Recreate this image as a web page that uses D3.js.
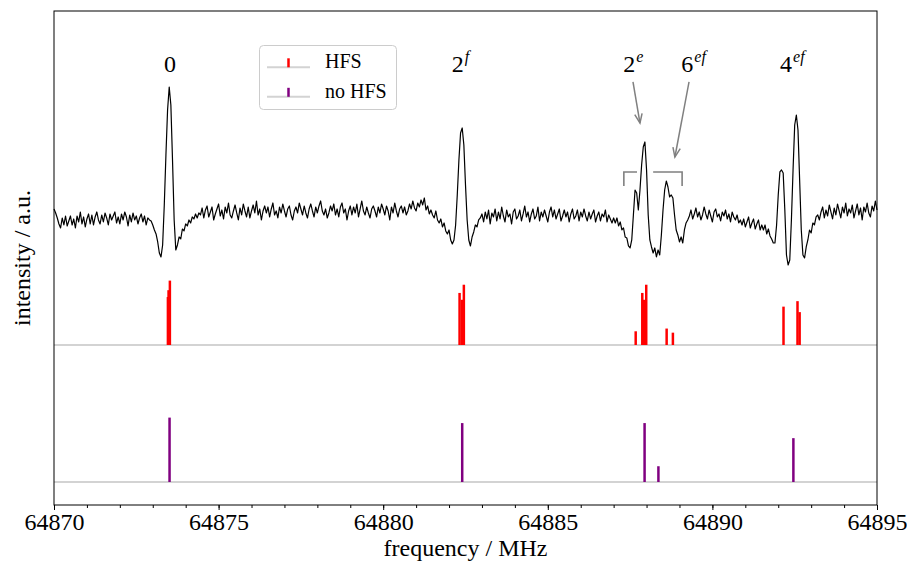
<!DOCTYPE html>
<html>
<head>
<meta charset="utf-8">
<script src="https://cdn.jsdelivr.net/npm/d3@7"></script>
<style>
body { margin: 0; background: #fff; }
text { font-family: "Liberation Serif", "DejaVu Serif", serif; fill: #000; }
</style>
</head>
<body>
<svg id="chart" width="907" height="562"></svg>
<script>
// measured spectrum, one value every 0.05 MHz from 64870 MHz (arbitrary counts, baseline ~0)
var specStart = 64870;
var specStep = 0.05;
var specCounts = [
  6, 2, -3, -9, -13, -3, -10, -1, -11, -6,
  -1, -10, -4, -13, -1, -7, 3, -9, -2, -12,
  -4, 1, -9, 0, -10, -2, 3, -5, -9, 0,
  -7, 2, -3, -10, 1, -5, -1, 3, -8, -2,
  -9, 1, -5, 3, -2, -11, 0, -7, 2, -5,
  -1, -9, -3, 1, -7, -1, -10, -3, -5,
  -6, -10, -15, -19, -27, -38, -42, -30, 10, 60, 105, 128, 110, 55, -5, -35,
  -30, -22, -24, -14, -16, -9, -11, -5, -8, -2, -4, 1, -3, 2,
  0, 7, -3, 5, 9, -2, 3, 8, -5, 1,
  6, 11, -1, 5, -4, 8, 2, 12, 0, -3,
  4, 10, 2, -5, 7, 0, 11, 4, -2, 8,
  -3, 4, 10, 2, 14, 0, 6, -5, 4, 9,
  2, 8, -2, 6, 12, 0, 4, -3, 8, 2,
  11, 4, -2, 6, 9, 0, -5, 4, 8, 2,
  12, 6, 0, 9, 2, -3, 6, 11, 4, -2,
  8, 2, 9, 14, 4, 0, 6, -3, 2, 9,
  4, 11, 0, 6, -2, 8, 12, 2, 6, -5,
  4, 9, 0, 8, 2, 11, -2, 6, 14, 4,
  0, 8, 2, -3, 6, 9, 4, -2, 8, 2,
  11, 6, 0, 9, 4, -5, 8, 2, 12, 4,
  -2, 6, 9, 2, 8, 0, 4, 11, 6, 14,
  7, 4, 12, 8, 15, 10,
  17,
  5, 9, 1, 5, 0, -3, 4, -5, -8, -4, -12, -8, -16, -19, -15, -25, -29,
  -25, -10, 20, 55, 82, 87, 70, 30, -5, -25, -31, -22, -17, -10, -12, -5, -3,
  1, -7, 3, -4, 5, -9, 2, -2, 6, -6,
  3, -4, 8, -1, -7, 5, -2, 1, -9, 3,
  6, -4, -1, 5, -6, 1, 9, -2, 3, -7,
  1, 6, -4, -1, 8, -6, 3, -2, 5, -1,
  -7, 3, 8, -2, 5, -4, 1, 6, -6, -1,
  5, -2, 3, -7, 1, 6, -4, -1, 5, -6,
  3, -2, 6, -1, -6, 3, -4, 1, 5, -7,
  -1, 3, -6, 1, -2, 5, -7, 0, -4, -8,
  -3, -8, -3, -11, -7, -15, -13, -22, -23, -31,
  -33, -25, 0, 25, 22, 5, 25, 50, 68, 73, 45, 0, -25, -32, -38, -33, -42, -35, -40,
  -20, 5, 25, 34, 28, 18, 20, 17, 0, -15, -20, -27, -22, -28, -15, -8, -5, -1,
  5, -4, 1, 7, -2, 3, -5, 0, 8, 1,
  -4, 5, -1, -7, 3, 6, -2, 1, -6, 3,
  -1, 5, -4, 1, -7, 3, -2, -5, 0, -8,
  -5, -10, -4, -12, -7, -2, -13, -8, -4, -14, -9, -5, -15, -10,
  -15, -10, -19, -14, -21, -24, -28,
  -28, -10, 20, 43, 45, 42, 5, -40, -50, -45, -5, 45, 90, 100, 85, 35, -15,
  -40, -43, -32, -25, -15, -18, -8, -10, -2,
  0, -5, 3, 8, -3, 5, -1, 10, 3, -4,
  7, 0, 11, 4, -3, 8, 2, 12, -1, 6,
  2, 10, -3, 4, 11, 0, 7, -5, 8, 3,
  12, 2, -2, 9, 4, 14, 5
];
if (specCounts.length !== 501) throw new Error("specCounts has " + specCounts.length + " values");

// calculated line positions (MHz) and relative intensities
var hfsFreq = [64873.46, 64873.48, 64873.52, 64882.32, 64882.39, 64882.45, 64887.67, 64887.87,
  64887.92, 64887.99, 64888.61, 64888.80, 64892.16, 64892.585, 64892.65];
var hfsInt = [0.35, 0.40, 0.47, 0.38, 0.33, 0.44, 0.10, 0.38, 0.33, 0.44, 0.12, 0.09, 0.28, 0.32, 0.24];
var noHfsFreq = [64873.51, 64882.40, 64887.94, 64888.36, 64892.46];
var noHfsInt = [0.47, 0.43, 0.43, 0.115, 0.32];

var xTicks = [64870, 64875, 64880, 64885, 64890, 64895];

// peak labels: main text, superscript, frequency of the label centre
var peakText = ["0", "2", "2", "6", "4"];
var peakSup = ["", "f", "e", "ef", "ef"];
var peakFreq = [64873.52, 64882.35, 64887.60, 64889.43, 64892.43];

// vertical offsets of the three traces (a.u.)
var specOffset = 1.949;
var specGain = 1 / 137;
var hfsOffset = 1.0;
var noHfsOffset = 0;

var margin = {left: 54, right: 877, top: 11, bottom: 505};

var svg = d3.select("#chart");

var x = d3.scaleLinear().domain([64870, 64895]).range([margin.left, margin.right]);
var y = d3.scaleLinear().domain([-0.168, 3.438]).range([margin.bottom, margin.top]);

var plot = svg.append("g");

// stick spectrum baselines
[hfsOffset, noHfsOffset].forEach(function(b) {
    plot.append("line")
        .attr("x1", margin.left).attr("x2", margin.right)
        .attr("y1", y(b)).attr("y2", y(b))
        .attr("stroke", "#d3d3d3")
        .attr("stroke-width", 2);
});

// sticks
plot.selectAll(".hfs")
    .data(hfsFreq)
    .join("line")
    .attr("class", "hfs")
    .attr("x1", d => x(d)).attr("x2", d => x(d))
    .attr("y1", y(hfsOffset))
    .attr("y2", (d, i) => y(hfsOffset + hfsInt[i]))
    .attr("stroke", "#ff0000")
    .attr("stroke-width", 2.5);

plot.selectAll(".nohfs")
    .data(noHfsFreq)
    .join("line")
    .attr("class", "nohfs")
    .attr("x1", d => x(d)).attr("x2", d => x(d))
    .attr("y1", y(noHfsOffset))
    .attr("y2", (d, i) => y(noHfsOffset + noHfsInt[i]))
    .attr("stroke", "#800080")
    .attr("stroke-width", 2.5);

// measured spectrum
var line = d3.line()
    .x((d, i) => x(specStart + i * specStep))
    .y(d => y(specOffset + d * specGain));

plot.append("path")
    .datum(specCounts)
    .attr("d", line)
    .attr("fill", "none")
    .attr("stroke", "#000")
    .attr("stroke-width", 1.2)
    .attr("stroke-linejoin", "round");

// brackets over the 2e / 6ef group
var gray = "#808080";
var brY = y(2.263), brY2 = y(2.16);
plot.append("path")
    .attr("d", "M" + x(64887.31) + "," + brY2 + "V" + brY + "H" + x(64887.71))
    .attr("fill", "none").attr("stroke", gray).attr("stroke-width", 1.6);
plot.append("path")
    .attr("d", "M" + x(64888.20) + "," + brY + "H" + x(64889.08) + "V" + brY2)
    .attr("fill", "none").attr("stroke", gray).attr("stroke-width", 1.6);

// arrows
function arrow(f1, a1, f2, a2) {
    var x1 = x(f1), y1 = y(a1), x2 = x(f2), y2 = y(a2);
    var ang = Math.atan2(y2 - y1, x2 - x1);
    var len = 10, spread = 0.38;
    plot.append("line")
        .attr("x1", x1).attr("y1", y1).attr("x2", x2).attr("y2", y2)
        .attr("stroke", gray).attr("stroke-width", 1.5);
    plot.append("path")
        .attr("d", "M" + (x2 - len * Math.cos(ang - spread)) + "," + (y2 - len * Math.sin(ang - spread)) +
            "L" + x2 + "," + y2 +
            "L" + (x2 - len * Math.cos(ang + spread)) + "," + (y2 - len * Math.sin(ang + spread)))
        .attr("fill", "none").attr("stroke", gray).attr("stroke-width", 1.5);
}
arrow(64887.588, 2.92, 64887.80, 2.62);
arrow(64889.29, 2.92, 64888.86, 2.372);

// peak labels
peakText.forEach(function(t, i) {
    var lab = plot.append("text")
        .attr("x", x(peakFreq[i]))
        .attr("y", y(2.993))
        .attr("text-anchor", "middle")
        .style("font-size", "24px")
        .text(t);
    if (peakSup[i]) {
        lab.append("tspan")
            .attr("dy", -10)
            .attr("dx", 1)
            .style("font-size", "16px")
            .style("font-style", "italic")
            .text(peakSup[i]);
    }
});

// frame
svg.append("rect")
    .attr("x", margin.left).attr("y", margin.top)
    .attr("width", margin.right - margin.left).attr("height", margin.bottom - margin.top)
    .attr("fill", "none").attr("stroke", "#000").attr("stroke-width", 1);

// x axis
var xAxis = d3.axisBottom(x)
    .tickValues(xTicks)
    .tickSize(5)
    .tickPadding(3)
    .tickFormat(d3.format("d"));
var gx = svg.append("g")
    .attr("transform", "translate(0," + margin.bottom + ")")
    .call(xAxis);
gx.select(".domain").remove();
gx.selectAll("text").style("font-size", "24px").style("font-family", "'Liberation Serif', serif");

var gMinor = svg.append("g")
    .attr("transform", "translate(0," + margin.bottom + ")")
    .call(d3.axisBottom(x).ticks(25).tickSize(3).tickFormat(""));
gMinor.select(".domain").remove();

svg.append("text")
    .attr("x", (margin.left + margin.right) / 2)
    .attr("y", 556)
    .attr("text-anchor", "middle")
    .style("font-size", "24px")
    .text("frequency / MHz");

svg.append("text")
    .attr("transform", "translate(30," + ((margin.top + margin.bottom) / 2) + ") rotate(-90)")
    .attr("text-anchor", "middle")
    .style("font-size", "24px")
    .text("intensity / a.u.");

// legend
var legend = svg.append("g");
legend.append("rect")
    .attr("x", 259.5).attr("y", 45.5)
    .attr("width", 137).attr("height", 64)
    .attr("rx", 4)
    .attr("fill", "#fff").attr("fill-opacity", 0.8)
    .attr("stroke", "#cccccc");

var legendNames = ["HFS", "no HFS"];
var legendColors = ["#ff0000", "#800080"];
legendNames.forEach(function(name, i) {
    var by = 67.3 + i * 29.5;
    legend.append("line")
        .attr("x1", 267).attr("x2", 310)
        .attr("y1", by).attr("y2", by)
        .attr("stroke", "#d3d3d3").attr("stroke-width", 2);
    legend.append("line")
        .attr("x1", 288.5).attr("x2", 288.5)
        .attr("y1", by).attr("y2", by - 9)
        .attr("stroke", legendColors[i]).attr("stroke-width", 2.5);
    legend.append("text")
        .attr("x", 325).attr("y", by + 1)
        .style("font-size", "20px")
        .text(name);
});
</script>
</body>
</html>
